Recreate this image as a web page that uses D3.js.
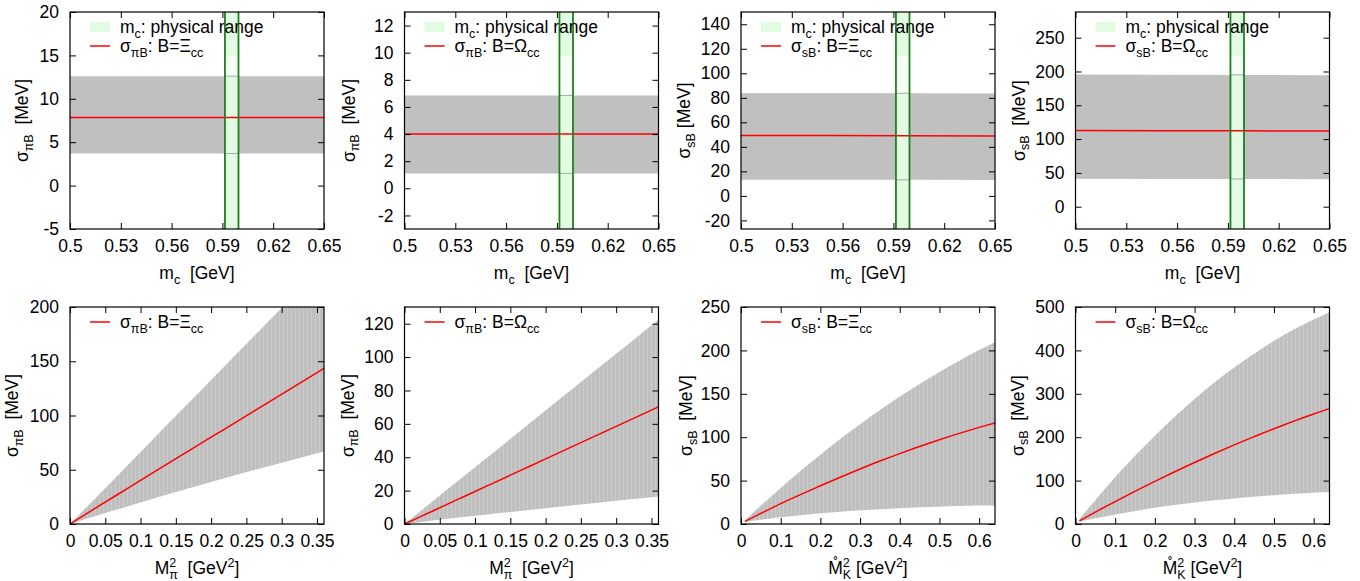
<!DOCTYPE html>
<html><head><meta charset="utf-8">
<script src="https://cdn.jsdelivr.net/npm/d3@7"></script>
<style>body{margin:0;background:#fff} text{font-family:"Liberation Sans",Arial,Helvetica,sans-serif;fill:#000}</style>
</head><body><svg id="c" width="1360" height="581"></svg>
<script>
// ---------------- data ----------------
// top row: dependence on the charm quark mass m_c [GeV]
const mcGrid = [0.50, 0.55, 0.60, 0.65];
const mcPhysRange = [0.5915, 0.5995];
const mcTicks = [0.5, 0.53, 0.56, 0.59, 0.62, 0.65];

const piXi_mc_mid = [7.85, 7.85, 7.85, 7.85];
const piXi_mc_lo  = [3.7, 3.7, 3.7, 3.7];
const piXi_mc_hi  = [12.6, 12.6, 12.6, 12.6];

const piOm_mc_mid = [4.0, 4.0, 4.0, 4.0];
const piOm_mc_lo  = [1.1, 1.1, 1.1, 1.1];
const piOm_mc_hi  = [6.85, 6.85, 6.85, 6.85];

const sXi_mc_mid = [49.3, 49.2, 49.0, 48.9];
const sXi_mc_lo  = [13.2, 13.1, 13.1, 13.0];
const sXi_mc_hi  = [83.8, 83.7, 83.7, 83.6];

const sOm_mc_mid = [112.8, 112.5, 112.2, 112.0];
const sOm_mc_lo  = [41.3, 41.1, 40.9, 40.7];
const sOm_mc_hi  = [195.5, 195.2, 194.9, 194.6];

// bottom row: dependence on M_pi^2 and (M_K^0)^2 [GeV^2]
const mpi2Grid = [0, 0.04, 0.08, 0.12, 0.16, 0.20, 0.24, 0.28, 0.32, 0.36];
const mpi2Ticks = [0, 0.05, 0.1, 0.15, 0.2, 0.25, 0.3, 0.35];
const piXi_mid = [0, 16.2, 32.2, 48.2, 64.1, 80.0, 95.8, 111.7, 127.5, 143.4];
const piXi_lo  = [0, 8.1, 16.0, 23.8, 31.4, 38.8, 46.0, 53.1, 60.0, 66.8];
const piXi_hi  = [0, 26.6, 53.1, 79.7, 106.2, 132.8, 159.4, 185.9, 212.5, 239.0];

const piOm_mid = [0, 7.8, 15.6, 23.4, 31.2, 39.0, 46.8, 54.6, 62.4, 70.2];
const piOm_lo  = [0, 2.1, 4.0, 5.9, 7.7, 9.5, 11.3, 13.0, 14.8, 16.5];
const piOm_hi  = [0, 13.6, 27.2, 40.8, 54.4, 68.0, 81.6, 95.2, 108.8, 122.4];

const mk2Grid = [0.01, 0.05, 0.10, 0.15, 0.20, 0.25, 0.30, 0.35, 0.40, 0.45, 0.50, 0.55, 0.60, 0.64];
const mk2Ticks = [0, 0.1, 0.2, 0.3, 0.4, 0.5, 0.6];
const sXi_mid = [3.0, 12.2, 23.5, 33.9, 44.0, 53.9, 63.4, 72.5, 81.1, 89.3, 97.1, 104.4, 111.3, 116.5];
const sXi_lo  = [2.5, 5.0, 7.8, 10.2, 12.3, 14.1, 15.7, 17.0, 18.2, 19.2, 20.0, 20.7, 21.2, 21.4];
const sXi_hi  = [4.3, 21.2, 41.6, 61.2, 79.9, 97.9, 115.0, 131.3, 146.8, 161.4, 175.2, 188.2, 200.4, 209.5];

const sOm_mid = [7.0, 27.5, 51.5, 75.3, 98.2, 120.5, 141.8, 162.4, 182.2, 201.2, 219.5, 237.0, 253.6, 266.0];
const sOm_lo  = [5.0, 13.0, 22.0, 30.0, 37.5, 44.0, 49.5, 54.5, 59.0, 63.0, 66.5, 69.5, 72.0, 73.5];
const sOm_hi  = [11.5, 55.0, 107.6, 157.0, 203.6, 247.0, 288.0, 326.0, 360.7, 392.0, 422.0, 448.0, 471.0, 488.0];

// ---------------- layout / style ----------------
const FS = 17.5, FSS = 12.5;
const frameLefts = [70, 404.5, 741, 1075.5];
const frameTops = [12, 307];
const FW = 254, FH = 217;
const ylabOff = [[42, 50, 51, 51], [52, 51, 49, 52]];
const NB = "\u00A0";

const xiName = "\u039E", omName = "\u03A9";
const panels = [
  {row:0,col:0, xs:mcGrid, mid:piXi_mc_mid, lo:piXi_mc_lo, hi:piXi_mc_hi, xd:[0.5,0.65], xt:mcTicks, yd:[-5,20], yt:[-5,0,5,10,15,20], q:"\u03C0B", B:xiName, xl:"mc", band:true},
  {row:0,col:1, xs:mcGrid, mid:piOm_mc_mid, lo:piOm_mc_lo, hi:piOm_mc_hi, xd:[0.5,0.65], xt:mcTicks, yd:[-3,13], yt:[-2,0,2,4,6,8,10,12], q:"\u03C0B", B:omName, xl:"mc", band:true},
  {row:0,col:2, xs:mcGrid, mid:sXi_mc_mid, lo:sXi_mc_lo, hi:sXi_mc_hi, xd:[0.5,0.65], xt:mcTicks, yd:[-27,150], yt:[-20,0,20,40,60,80,100,120,140], q:"sB", B:xiName, xl:"mc", band:true},
  {row:0,col:3, xs:mcGrid, mid:sOm_mc_mid, lo:sOm_mc_lo, hi:sOm_mc_hi, xd:[0.5,0.65], xt:mcTicks, yd:[-33,288], yt:[0,50,100,150,200,250], q:"sB", B:omName, xl:"mc", band:true},
  {row:1,col:0, xs:mpi2Grid, mid:piXi_mid, lo:piXi_lo, hi:piXi_hi, xd:[0,0.36], xt:mpi2Ticks, yd:[0,200], yt:[0,50,100,150,200], q:"\u03C0B", B:xiName, xl:"pi"},
  {row:1,col:1, xs:mpi2Grid, mid:piOm_mid, lo:piOm_lo, hi:piOm_hi, xd:[0,0.36], xt:mpi2Ticks, yd:[0,130], yt:[0,20,40,60,80,100,120], q:"\u03C0B", B:omName, xl:"pi"},
  {row:1,col:2, xs:mk2Grid, mid:sXi_mid, lo:sXi_lo, hi:sXi_hi, xd:[0,0.64], xt:mk2Ticks, yd:[0,250], yt:[0,50,100,150,200,250], q:"sB", B:xiName, xl:"K"},
  {row:1,col:3, xs:mk2Grid, mid:sOm_mid, lo:sOm_lo, hi:sOm_hi, xd:[0,0.64], xt:mk2Ticks, yd:[0,500], yt:[0,100,200,300,400,500], q:"sB", B:omName, xl:"K"},
];

const svg = d3.select("#c");
const fmt = d => String(+d.toFixed(3));

// striped gray texture like the rasterised filled curves
const defs = svg.append("defs");
const pat = defs.append("pattern").attr("id", "stripes").attr("patternUnits", "userSpaceOnUse")
  .attr("width", 4).attr("height", 10);
pat.append("rect").attr("width", 4).attr("height", 10).attr("fill", "#bfbfbf");
pat.append("rect").attr("x", 3).attr("width", 1).attr("height", 10).attr("fill", "#cbcbcb");

// rich text helper: parts = [text, kind, dx]
function rich(sel, parts, fs) {
  let cur = 0;
  parts.forEach(([t, kind, dx]) => {
    const target = kind === "sub" ? 4.5 : kind === "sup" ? -7.5 : 0;
    const ts = sel.append("tspan").text(t)
      .attr("font-size", kind ? FSS : fs)
      .attr("dy", target - cur);
    if (dx) ts.attr("dx", dx);
    cur = target;
  });
}

panels.forEach((p, i) => {
  const left = frameLefts[p.col], top = frameTops[p.row];
  const x = d3.scaleLinear().domain(p.xd).range([left, left + FW]);
  const y = d3.scaleLinear().domain(p.yd).range([top + FH, top]);
  const g = svg.append("g");
  const cid = "clip" + i;
  g.append("clipPath").attr("id", cid).append("rect")
    .attr("x", left).attr("y", top).attr("width", FW).attr("height", FH);
  const pg = g.append("g").attr("clip-path", `url(#${cid})`);

  const curve = p.band ? d3.curveLinear : d3.curveNatural;
  const rows = p.xs.map((xv, k) => ({x: xv, lo: p.lo[k], mid: p.mid[k], hi: p.hi[k]}));
  const area = d3.area().x(d => x(d.x)).y0(d => y(d.lo)).y1(d => y(d.hi)).curve(curve);
  pg.append("path").datum(rows).attr("d", area)
    .attr("fill", p.band ? "#c0c0c0" : "url(#stripes)").attr("stroke", "none");

  if (p.band) {
    const bx0 = x(mcPhysRange[0]), bx1 = x(mcPhysRange[1]);
    pg.append("rect").attr("x", bx0).attr("width", bx1 - bx0).attr("y", top).attr("height", FH)
      .attr("fill", "#e2fbe2");
    const legBottom = top + 44;
    const ghi = y(d3.mean(p.hi)), glo = y(d3.mean(p.lo));
    if (ghi > legBottom) {
      pg.append("rect").attr("x", bx0).attr("width", bx1 - bx0).attr("y", legBottom).attr("height", ghi - legBottom)
        .attr("fill", "#f6fff6");
    }
    [ghi, glo].forEach(yy => pg.append("line").attr("x1", bx0).attr("x2", bx1).attr("y1", yy).attr("y2", yy)
      .attr("stroke", "#a8a8a8").attr("stroke-width", 1));
  }

  const line = d3.line().x(d => x(d.x)).y(d => y(d.mid)).curve(curve);
  pg.append("path").datum(rows).attr("d", line).attr("fill", "none").attr("stroke", "#ff0000").attr("stroke-width", 1.5);

  if (p.band) {
    mcPhysRange.forEach(v => pg.append("line").attr("x1", x(v)).attr("x2", x(v)).attr("y1", top).attr("y2", top + FH)
      .attr("stroke", "#1f7f1f").attr("stroke-width", 1.8));
  }

  // frame
  g.append("rect").attr("x", left).attr("y", top).attr("width", FW).attr("height", FH)
    .attr("fill", "none").attr("stroke", "#000").attr("stroke-width", 1.2);

  // axes (ticks inside, mirrored) using d3 axes
  const TL = 6;
  const axL = d3.axisLeft(y).tickValues(p.yt).tickSize(-TL).tickPadding(11).tickFormat(fmt);
  const axR = d3.axisRight(y).tickValues(p.yt).tickSize(-TL).tickFormat("");
  const axB = d3.axisBottom(x).tickValues(p.xt).tickSize(-TL).tickPadding(11).tickFormat(fmt);
  const axT = d3.axisTop(x).tickValues(p.xt).tickSize(-TL).tickFormat("");
  const style = a => { a.select(".domain").remove(); a.selectAll("line").attr("stroke", "#000").attr("stroke-width", 1); a.selectAll("text").attr("font-size", FS).attr("font-family", null); };
  g.append("g").attr("transform", `translate(${left},0)`).call(axL).call(style);
  g.append("g").attr("transform", `translate(${left + FW},0)`).call(axR).call(style);
  g.append("g").attr("transform", `translate(0,${top + FH})`).call(axB).call(style);
  g.append("g").attr("transform", `translate(0,${top})`).call(axT).call(style);

  // x label
  const xl = g.append("text").attr("x", left + FW / 2).attr("y", top + FH + 50).attr("text-anchor", "middle").attr("font-size", FS);
  if (p.xl === "mc") rich(xl, [["m"], ["c", "sub"], [NB + " [GeV]"]], FS);
  else if (p.xl === "pi") rich(xl, [["M"], ["2", "sup"], ["\u03C0", "sub", -7], [NB + " [GeV"], ["2", "sup"], ["]"]], FS);
  else rich(xl, [["M\u030A"], ["2", "sup"], ["K", "sub", -7], [" [GeV"], ["2", "sup"], ["]"]], FS);

  // y label
  const yx = left - ylabOff[p.row][p.col], yy = top + FH / 2;
  const yl = g.append("text").attr("transform", `translate(${yx},${yy}) rotate(-90)`).attr("text-anchor", "middle").attr("font-size", FS).attr("dy", "0.35em");
  rich(yl, [["\u03C3"], [p.q, "sub"], [(p.q === "sB" && p.row === 0 && p.col === 2 ? "" : NB) + " [MeV]"]], FS);

  // legend
  const lx = left + 20;
  let ly = top + 15;
  if (p.band) {
    g.append("rect").attr("x", lx).attr("y", ly - 5).attr("width", 20).attr("height", 10).attr("fill", "#e2fbe2");
    const t = g.append("text").attr("x", lx + 30).attr("y", ly + 6).attr("font-size", FS);
    rich(t, [["m"], ["c", "sub"], [": physical range"]], FS);
    ly += 19;
  }
  g.append("line").attr("x1", lx).attr("x2", lx + 20).attr("y1", ly).attr("y2", ly).attr("stroke", "#ff0000").attr("stroke-width", 1.5);
  const t2 = g.append("text").attr("x", lx + 30).attr("y", ly + 6).attr("font-size", FS);
  rich(t2, [["\u03C3"], [p.q, "sub"], [": B=" + p.B], ["cc", "sub"]], FS);
});
</script></body></html>
